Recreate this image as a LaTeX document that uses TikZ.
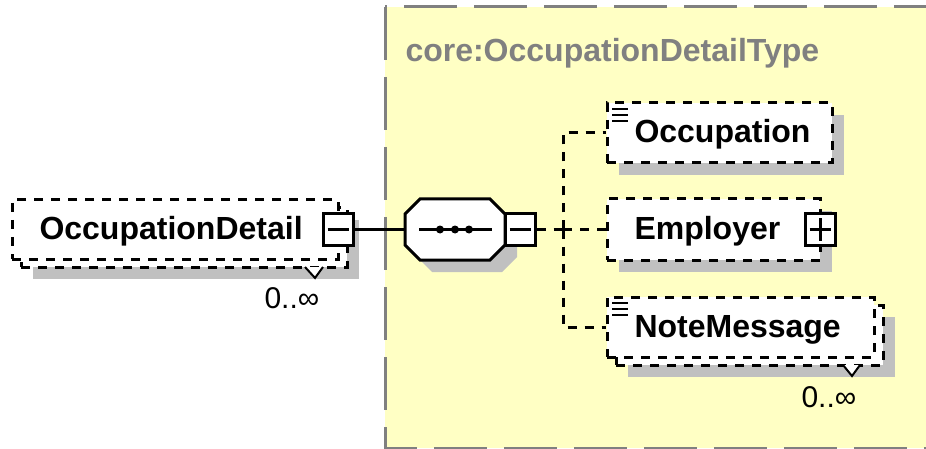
\documentclass[tikz,border=0pt]{standalone}
\usepackage{fontspec}
\setmainfont{Liberation Sans}
\usetikzlibrary{arrows.meta,positioning,calc}
\definecolor{boxyellow}{RGB}{255,255,196}
\definecolor{shadowgray}{RGB}{192,192,192}
\definecolor{framegray}{RGB}{128,128,128}

\begin{document}
\begin{tikzpicture}[x=1pt,y=-1pt,line width=3pt]
\tikzstyle{elem}=[draw,fill=white,dash pattern=on 9pt off 8pt,inner sep=0pt]
\tikzstyle{shade}=[fill=shadowgray,inner sep=0pt]
\tikzstyle{pm}=[draw,fill=white,solid,minimum width=30pt,minimum height=31pt,inner sep=0pt]
\tikzstyle{lbl}=[anchor=base west,inner sep=0pt,font=\fontsize{32}{36}\selectfont\bfseries]
\tikzstyle{occ}=[anchor=base west,inner sep=0pt,font=\fontsize{30}{34}\selectfont]
\tikzstyle{conn}=[dash pattern=on 9pt off 8pt]
\useasboundingbox (0,0) rectangle (926,449);
% complex type frame
\begin{scope}
\clip (0,0) rectangle (926,449);
\fill[boxyellow] (385,7) rectangle (960,448);
\draw[framegray,dash pattern=on 53pt off 17pt] (385,7) rectangle (960,448);
\end{scope}
\node[lbl,text=framegray] (typelbl) at (404,62) {core:OccupationDetailType};
% OccupationDetail
\node[shade,minimum width=326pt,minimum height=59pt] (odshade) at (196,249.5) {};
\node[elem,minimum width=326pt,minimum height=59pt] (odback) at (184,237.5) {};
\node[elem,minimum width=326pt,minimum height=59pt] (odfront) at (175,229.5) {};
\draw[line width=2pt,fill=white] (305,267) -- (315,278) -- (323,267);
\node[lbl] (odlbl) at (38,239) {OccupationDetail};
\node[pm] (odminus) at (338,229.5) {};
\draw ($(odminus.west)+(6,0)$) -- ($(odminus.east)+(-6,0)$);
\node[occ] (odocc) at (263,308) {0..∞};
% sequence
\fill[shadowgray] (432,211) -- (502,211) -- (517,226) -- (517,257) -- (502,272) -- (432,272) -- (417,257) -- (417,226) -- cycle;
\draw[fill=white] (420,199) -- (490,199) -- (505,214) -- (505,245) -- (490,260) -- (420,260) -- (405,245) -- (405,214) -- cycle;
\coordinate (seqin) at (405,229.5);
\draw (419,229.5) -- (492,229.5);
\foreach \x in {440,455,469} \fill (\x,229.5) circle (4pt);
\node[pm] (seqminus) at (520,229.5) {};
\draw ($(seqminus.west)+(6,0)$) -- ($(seqminus.east)+(-6,0)$);
\draw (odminus.east) -- (seqin);
% children
\node[shade,minimum width=225pt,minimum height=60pt] (occshade) at (731.5,145) {};
\node[elem,minimum width=225pt,minimum height=60pt] (occfront) at (719.5,133) {};
\foreach \y in {109,115,121} \draw[line width=2pt] (612,\y) -- (628,\y);
\node[lbl] (occlbl) at (633,143) {Occupation};
\node[shade,minimum width=213pt,minimum height=61pt] (empshade) at (725.5,241.5) {};
\node[elem,minimum width=213pt,minimum height=61pt] (empfront) at (713.5,229.5) {};
\node[lbl] (emplbl) at (633,240) {Employer};
\node[pm] (empplus) at (820,229.5) {};
\draw ($(empplus.west)+(6,0)$) -- ($(empplus.east)+(-6,0)$);
\draw ($(empplus.north)+(0,6)$) -- ($(empplus.south)+(0,-6)$);
\node[shade,minimum width=267pt,minimum height=60pt] (noteshade) at (761.5,347) {};
\node[elem,minimum width=267pt,minimum height=60pt] (noteback) at (749.5,335) {};
\node[elem,minimum width=267pt,minimum height=60pt] (notefront) at (740.5,327) {};
\draw[line width=2pt,fill=white] (843,365) -- (852,376) -- (860,365);
\foreach \y in {303,309,315} \draw[line width=2pt] (612,\y) -- (628,\y);
\node[lbl] (notelbl) at (633,337) {NoteMessage};
\node[occ] (noteocc) at (800,407) {0..∞};
% connectors
\coordinate (fork) at (563,229.5);
\draw[conn] (seqminus.east) -- (fork);
\draw[conn] (fork) |- (occfront.west);
\draw[conn] (fork) |- (empfront.west);
\draw[conn] (fork) |- (notefront.west);
\end{tikzpicture}
\end{document}
